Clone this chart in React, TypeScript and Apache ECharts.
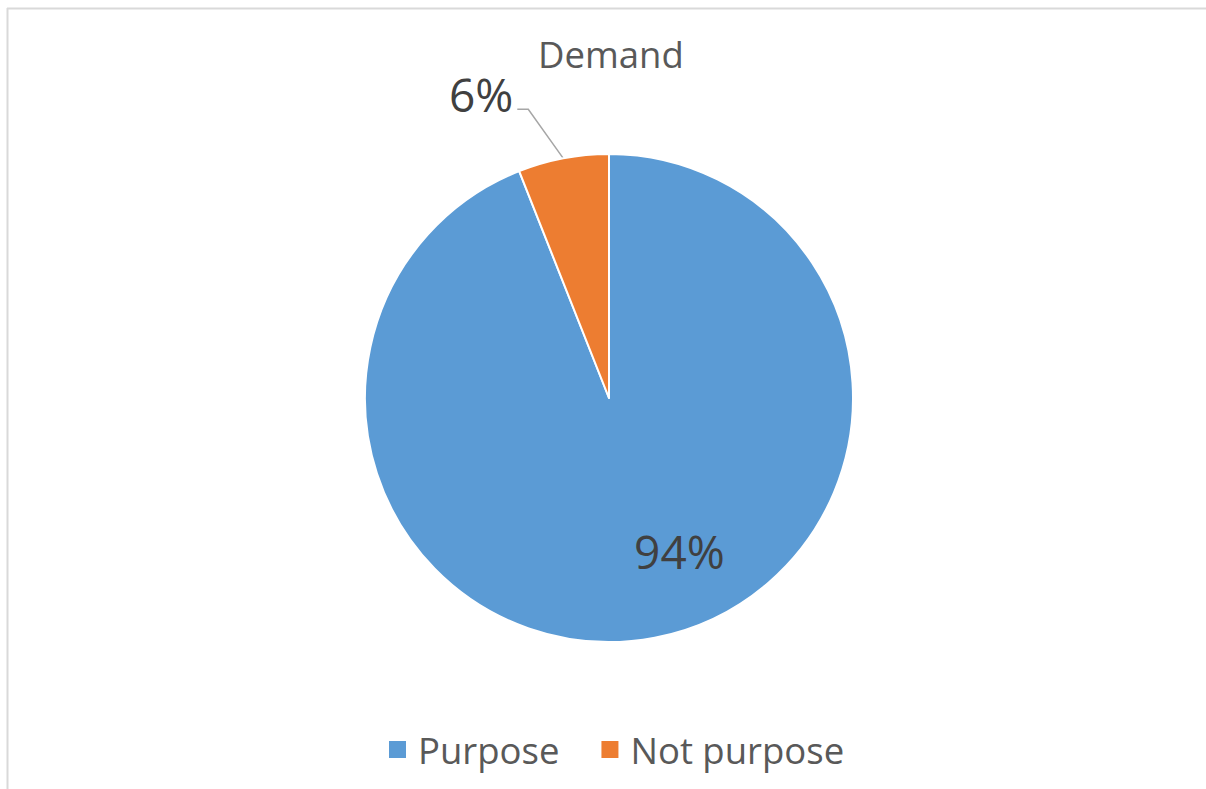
import React, { useEffect, useRef } from "react";
import * as echarts from "echarts";

const titleText = "Demand";
const categories = ["Purpose", "Not purpose"];
const values = [94, 6];
const colors = ["#5B9BD5", "#ED7D31"];

export default function App() {
  const ref = useRef<HTMLDivElement>(null);
  useEffect(() => {
    document.body.style.margin = "0";
    const chart = echarts.init(ref.current!, null, { renderer: "svg" });
    const font = "'Open Sans', 'Noto Sans', sans-serif";
    chart.setOption({
      animation: false,
      backgroundColor: "#ffffff",
      color: colors,
      title: {
        text: titleText,
        left: 533,
        top: 30,
        textStyle: { fontFamily: font, fontSize: 36.5, fontWeight: "normal", color: "#595959" },
      },
      legend: {
        data: categories,
        left: 382,
        top: 726,
        icon: "rect",
        itemWidth: 19,
        itemHeight: 19,
        itemGap: 40,
        textStyle: { fontFamily: font, fontSize: 36.5, color: "#595959", padding: [0, 0, 0, 6] },
      },
      graphic: [
        { type: "line", shape: { x1: 7, y1: 8.5, x2: 1206, y2: 8.5 }, style: { stroke: "#d9d9d9", lineWidth: 2 }, silent: true },
        { type: "line", shape: { x1: 7.5, y1: 8, x2: 7.5, y2: 789 }, style: { stroke: "#d9d9d9", lineWidth: 2 }, silent: true },
      ],
      series: [
        {
          type: "pie",
          center: [609, 398],
          radius: 244,
          startAngle: 90,
          clockwise: true,
          avoidLabelOverlap: false,
          itemStyle: { borderColor: "#ffffff", borderWidth: 2 },
          label: {
            formatter: "{d}%",
            fontFamily: font,
            fontSize: 46,
            color: "#404040",
          },
          labelLine: { length: 50, length2: 11, lineStyle: { color: "#a6a6a6", width: 1.5 } },
          labelLayout: (p: any) => {
            if (p.dataIndex === 0) {
              return { dx: 47, dy: 30 };
            }
            const pts = p.labelLinePoints;
            if (!pts) return {};
            const s = pts[0];
            const m = [s[0] - 35, s[1] - 49];
            const e = [m[0] - 11, m[1]];
            return {
              x: e[0] - 4,
              y: e[1] - 15,
              align: "right",
              verticalAlign: "middle",
              labelLinePoints: [s, m, e],
            };
          },
          data: categories.map((name, i) => ({
            name,
            value: values[i],
            label: i === 0 ? { position: "inside" } : { position: "outside" },
            labelLine: { show: i !== 0 },
          })),
        },
      ],
    });
    return () => chart.dispose();
  }, []);
  return <div ref={ref} style={{ width: 1206, height: 789 }} />;
}
